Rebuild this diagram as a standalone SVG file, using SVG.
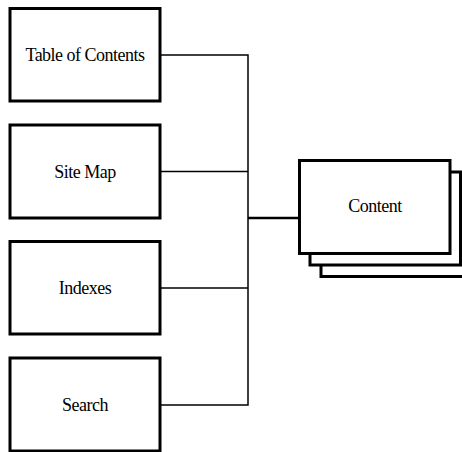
<svg xmlns="http://www.w3.org/2000/svg" width="462" height="452" viewBox="0 0 462 452">
<style>
.box{fill:#fff;stroke:#000;stroke-width:3}
.lbl{font-family:"Liberation Serif","Times New Roman",serif;font-size:18px;letter-spacing:-0.5px;text-anchor:middle;fill:#000}
.conn{fill:none;stroke:#000;stroke-width:1.5}
</style>
<rect width="462" height="452" fill="#fff"/>
<g id="connectors">
<path class="conn" d="M159.5 55H248M159.5 171.5H248M159.5 288H248M159.5 405H248M248 54.25V405.75"/>
<path class="conn" style="stroke-width:2.5" d="M248 218H300"/>
</g>
<g id="toc"><rect class="box" x="10" y="8.5" width="150" height="92.5"/><text class="lbl" x="85" y="61">Table of Contents</text></g>
<g id="sitemap"><rect class="box" x="10" y="125" width="150" height="93"/><text class="lbl" x="85" y="177.5">Site Map</text></g>
<g id="indexes"><rect class="box" x="10" y="241.5" width="150" height="92.5"/><text class="lbl" x="85" y="294">Indexes</text></g>
<g id="search"><rect class="box" x="10" y="358" width="150" height="93"/><text class="lbl" x="85" y="411">Search</text></g>
<g id="content">
<rect class="box" x="321" y="183" width="151" height="93.5"/>
<rect class="box" x="310" y="172" width="150.5" height="93"/>
<rect class="box" x="299.5" y="160.5" width="150.5" height="93"/>
<text class="lbl" x="375" y="212">Content</text>
</g>
</svg>
